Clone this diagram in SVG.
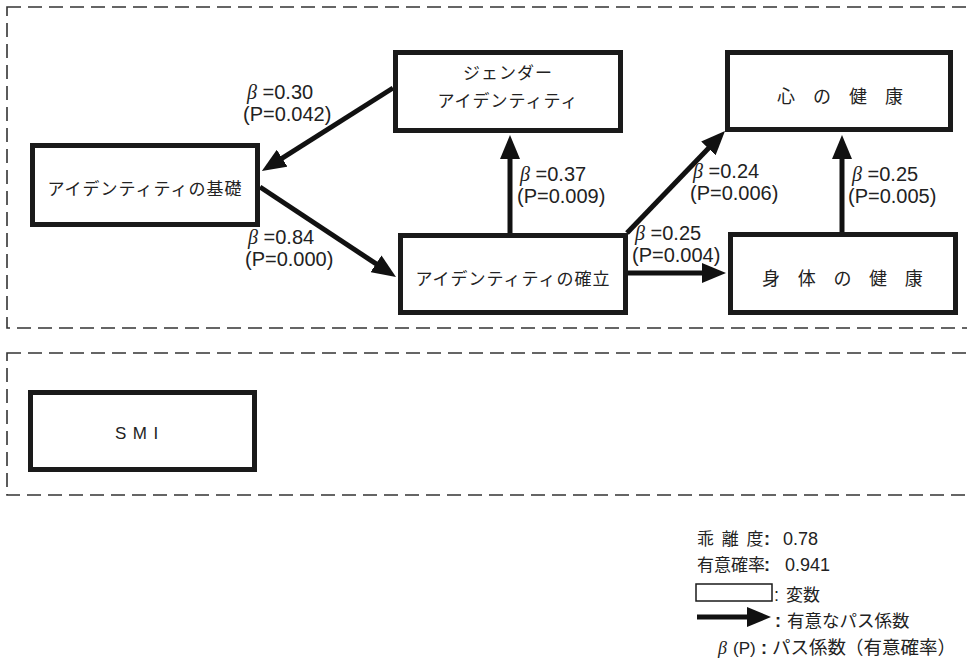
<svg xmlns="http://www.w3.org/2000/svg" width="967" height="662" viewBox="0 0 967 662">
<defs>
<style>
.frame{fill:none;stroke:#333;stroke-width:1.6;stroke-dasharray:14 7}
.box{fill:#fff;stroke:#1a1a1a;stroke-width:5}
.jp{font-family:"Noto Sans CJK JP","Noto Sans CJK SC",sans-serif;font-size:17px;fill:#222}
.num{font-family:"Liberation Sans",Arial,sans-serif;font-size:20px;fill:#222}
.beta{font-family:"Liberation Serif","Times New Roman",serif;font-style:italic}
.lnum{font-family:"Liberation Sans",Arial,sans-serif;font-size:18px;fill:#222}
.col{font-family:"Liberation Sans",Arial,sans-serif;font-size:18px;font-weight:bold;fill:#222}
.edge{stroke:#111;stroke-width:5;fill:none;marker-end:url(#ah)}
</style>
<marker id="ah" markerUnits="userSpaceOnUse" markerWidth="24" markerHeight="20" refX="12" refY="10" orient="auto" viewBox="0 0 24 20">
<path d="M0,0 L24,10 L0,20 z" fill="#111"/>
</marker>
</defs>
<rect width="967" height="662" fill="#fff"/>

<g id="frames">
<rect class="frame" x="7" y="7" width="975" height="321"/>
<rect class="frame" x="7" y="353" width="975" height="142"/>
</g>

<g id="connectors">
<line class="edge" x1="393" y1="88" x2="272" y2="164.6"/>
<line class="edge" x1="260" y1="187" x2="386" y2="270.4"/>
<line class="edge" x1="510" y1="233" x2="510" y2="147"/>
<line class="edge" x1="627" y1="233" x2="716.7" y2="139.7"/>
<line class="edge" x1="628" y1="273" x2="714" y2="273"/>
<line class="edge" x1="842" y1="233" x2="842" y2="147"/>
</g>

<g id="n-kiso">
<rect class="box" x="32.5" y="145.5" width="225" height="79"/>
<text class="jp" x="145" y="195" text-anchor="middle" letter-spacing="1">アイデンティティの基礎</text>
</g>
<g id="n-gender">
<rect class="box" x="395.5" y="52.5" width="225" height="78"/>
<text class="jp" x="508" y="78.5" text-anchor="middle" letter-spacing="1">ジェンダー</text>
<text class="jp" x="508" y="106.5" text-anchor="middle" letter-spacing="1">アイデンティティ</text>
</g>
<g id="n-kakuritsu">
<rect class="box" x="400.5" y="235.5" width="225" height="77"/>
<text class="jp" x="513" y="284.5" text-anchor="middle" letter-spacing="1">アイデンティティの確立</text>
</g>
<g id="n-kokoro">
<rect class="box" x="727.5" y="52.5" width="223" height="77"/>
<text class="jp" x="777" y="102.5" style="font-size:18px" letter-spacing="18">心の健康</text>
</g>
<g id="n-shintai">
<rect class="box" x="730.5" y="234.5" width="225" height="78"/>
<text class="jp" x="762" y="284.5" style="font-size:18px" letter-spacing="17.7">身体の健康</text>
</g>
<g id="n-smi">
<rect class="box" x="30.5" y="392.5" width="224" height="77"/>
<text class="num" x="115" y="439" style="font-size:17px" letter-spacing="6.5">SMI</text>
</g>

<g id="labels">
<text class="num" x="247" y="99"><tspan class="beta">β</tspan> =0.30</text>
<text class="num" x="243" y="121">(P=0.042)</text>
<text class="num" x="248" y="244"><tspan class="beta">β</tspan> =0.84</text>
<text class="num" x="245" y="266">(P=0.000)</text>
<text class="num" x="520" y="181"><tspan class="beta">β</tspan> =0.37</text>
<text class="num" x="517" y="203">(P=0.009)</text>
<text class="num" x="693" y="178"><tspan class="beta">β</tspan> =0.24</text>
<text class="num" x="690" y="200">(P=0.006)</text>
<text class="num" x="852" y="181"><tspan class="beta">β</tspan> =0.25</text>
<text class="num" x="848" y="203">(P=0.005)</text>
<text class="num" x="635" y="240"><tspan class="beta">β</tspan> =0.25</text>
<text class="num" x="632" y="262">(P=0.004)</text>
</g>

<g id="legend">
<text class="jp" y="545"><tspan x="697" letter-spacing="2">乖 離 度</tspan><tspan x="764" class="col">:</tspan><tspan x="783" class="lnum">0.78</tspan></text>
<text class="jp" y="571"><tspan x="697">有意確率</tspan><tspan x="764" class="col">:</tspan><tspan x="785" class="lnum">0.941</tspan></text>
<rect x="696" y="584" width="76" height="17" fill="#fff" stroke="#1a1a1a" stroke-width="1.5"/>
<text class="jp" y="601"><tspan x="774" class="lnum">:</tspan><tspan x="786">変数</tspan></text>
<line class="edge" x1="697" y1="617" x2="759" y2="617"/>
<text class="jp" y="627"><tspan x="775" class="col">:</tspan><tspan x="787" style="font-size:17.5px">有意なパス係数</tspan></text>
<text class="jp" y="654" style="font-size:18.5px"><tspan x="718" class="beta" style="font-size:18px">β</tspan><tspan x="733" class="lnum" style="font-size:17px">(P)</tspan><tspan x="761" class="col">:</tspan><tspan x="772">パス係数</tspan><tspan x="845">（有意確率）</tspan></text>
</g>
</svg>
